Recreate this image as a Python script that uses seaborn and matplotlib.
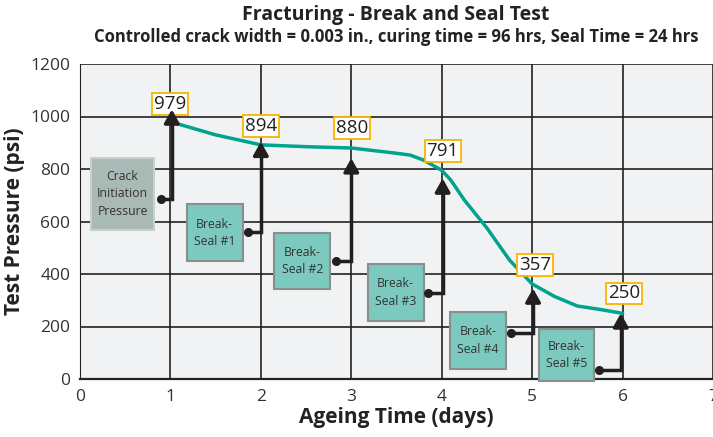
import matplotlib
matplotlib.use("Agg")
import numpy as np
import pandas as pd
import matplotlib.pyplot as plt
import seaborn as sns
from matplotlib.patches import Rectangle

# ─── data ─────────────────────────────────────────────
days = [1.02, 1.5, 2.0, 2.5, 3.0, 3.3, 3.5, 3.65, 3.8, 4.0, 4.1, 4.25, 4.5, 4.75, 5.0, 5.25, 5.5, 5.75, 6.0]
pressure = [978, 930, 892, 885, 880, 868, 860, 853, 834, 795, 758, 682, 575, 453, 362, 314, 278, 265, 250]

peak_labels = ["979", "894", "880", "791", "357", "250"]
peak_x = [1.0, 2.0, 3.01, 4.01, 5.03, 6.02]
peak_y = [1048, 965, 955, 869, 434, 326]

arrow_x = [1.015, 2.0, 3.0, 4.01, 5.01, 5.98]
arrow_tip = [1027, 904, 841, 764, 345, 250]
dot_x = [0.9, 1.86, 2.83, 3.85, 4.77, 5.74]
dot_y = [686, 559, 450, 326, 175, 34]

box_names = ["Crack\nInitiation\nPressure", "Break-\nSeal #1", "Break-\nSeal #2",
             "Break-\nSeal #3", "Break-\nSeal #4", "Break-\nSeal #5"]
box_x0 = [0.12, 1.18, 2.15, 3.18, 4.09, 5.08]
box_x1 = [0.82, 1.80, 2.77, 3.80, 4.71, 5.68]
box_y0 = [567, 449, 341, 221, 39, -8]
box_y1 = [843, 665, 557, 437, 254, 189]

df = pd.DataFrame({"days": days, "pressure": pressure})

# ─── plot ─────────────────────────────────────────────
sns.set_style("white")
plt.rcParams["font.family"] = ["Open Sans", "DejaVu Sans"]

fig = plt.figure(figsize=(7.13, 4.37), dpi=100)
ax = fig.add_axes([80 / 713, 58 / 437, 633 / 713, 315 / 437])
ax.set_facecolor("#f1f2f4")

ax.set_xlim(0, 7)
ax.set_ylim(0, 1200)
ax.set_xticks(range(0, 8))
ax.set_yticks(range(0, 1201, 200))
ax.grid(True, color="#222222", lw=1.2)
ax.set_axisbelow(True)
for s in ["top", "right"]:
    ax.spines[s].set_visible(False)
ax.spines["left"].set_color("#222222")
ax.spines["bottom"].set_color("#222222")
ax.spines["bottom"].set_linewidth(1.6)
ax.tick_params(axis="both", length=4, width=1, color="#222222",
               labelsize=12.5, labelcolor="#333333", pad=3)

sns.lineplot(data=df, x="days", y="pressure", ax=ax, color="#00a38d", lw=2.5, zorder=3)

# boxes
for i, name in enumerate(box_names):
    if i == 0:
        fc, ec = "#a9b9b5", "#c9cfcd"
    else:
        fc, ec = "#7ccabf", "#8a8f8e"
    ax.add_patch(Rectangle((box_x0[i], box_y0[i]), box_x1[i] - box_x0[i],
                           box_y1[i] - box_y0[i], fc=fc, ec=ec, lw=1.5,
                           zorder=4, clip_on=False))
    ax.text((box_x0[i] + box_x1[i]) / 2, (box_y0[i] + box_y1[i]) / 2, name,
            ha="center", va="center", fontsize=8.8, color="#333333",
            linespacing=1.45, zorder=5)

# value labels
for lx, ly, lab in zip(peak_x, peak_y, peak_labels):
    ax.text(lx, ly, lab, ha="center", va="center", fontsize=13.5, color="#222222",
            zorder=6, bbox=dict(boxstyle="square,pad=0.1", fc="white",
                                ec="#f7b500", lw=1.3))

# connectors
for i in range(6):
    ax.plot([dot_x[i], arrow_x[i], arrow_x[i]], [dot_y[i], dot_y[i], arrow_tip[i] - 40],
            color="#231f20", lw=2.5, zorder=7, solid_joinstyle="miter")
    ax.plot(dot_x[i], dot_y[i], "o", color="#231f20", ms=5.5, zorder=7)
    ax.annotate("", xy=(arrow_x[i], arrow_tip[i]), xytext=(arrow_x[i], arrow_tip[i] - 50),
                arrowprops=dict(arrowstyle="-|>,head_length=0.8,head_width=0.45",
                                color="#231f20", lw=2.5, shrinkA=0, shrinkB=0), zorder=8)

ax.set_xlabel("Ageing Time (days)", fontsize=15, fontweight="bold", color="#222222", labelpad=2)
ax.set_ylabel("Test Pressure (psi)", fontsize=15, fontweight="bold", color="#222222", labelpad=4)

fig.text(396 / 713, 1 - 15 / 437, "Fracturing - Break and Seal Test",
         ha="center", va="center", fontsize=14, fontweight="bold", color="#222222")
fig.text(396 / 713, 1 - 37 / 437,
         "Controlled crack width = 0.003 in., curing time = 96 hrs, Seal Time = 24 hrs",
         ha="center", va="center", fontsize=12, fontweight="bold", color="#222222")

fig.savefig("out.png", dpi=100)
